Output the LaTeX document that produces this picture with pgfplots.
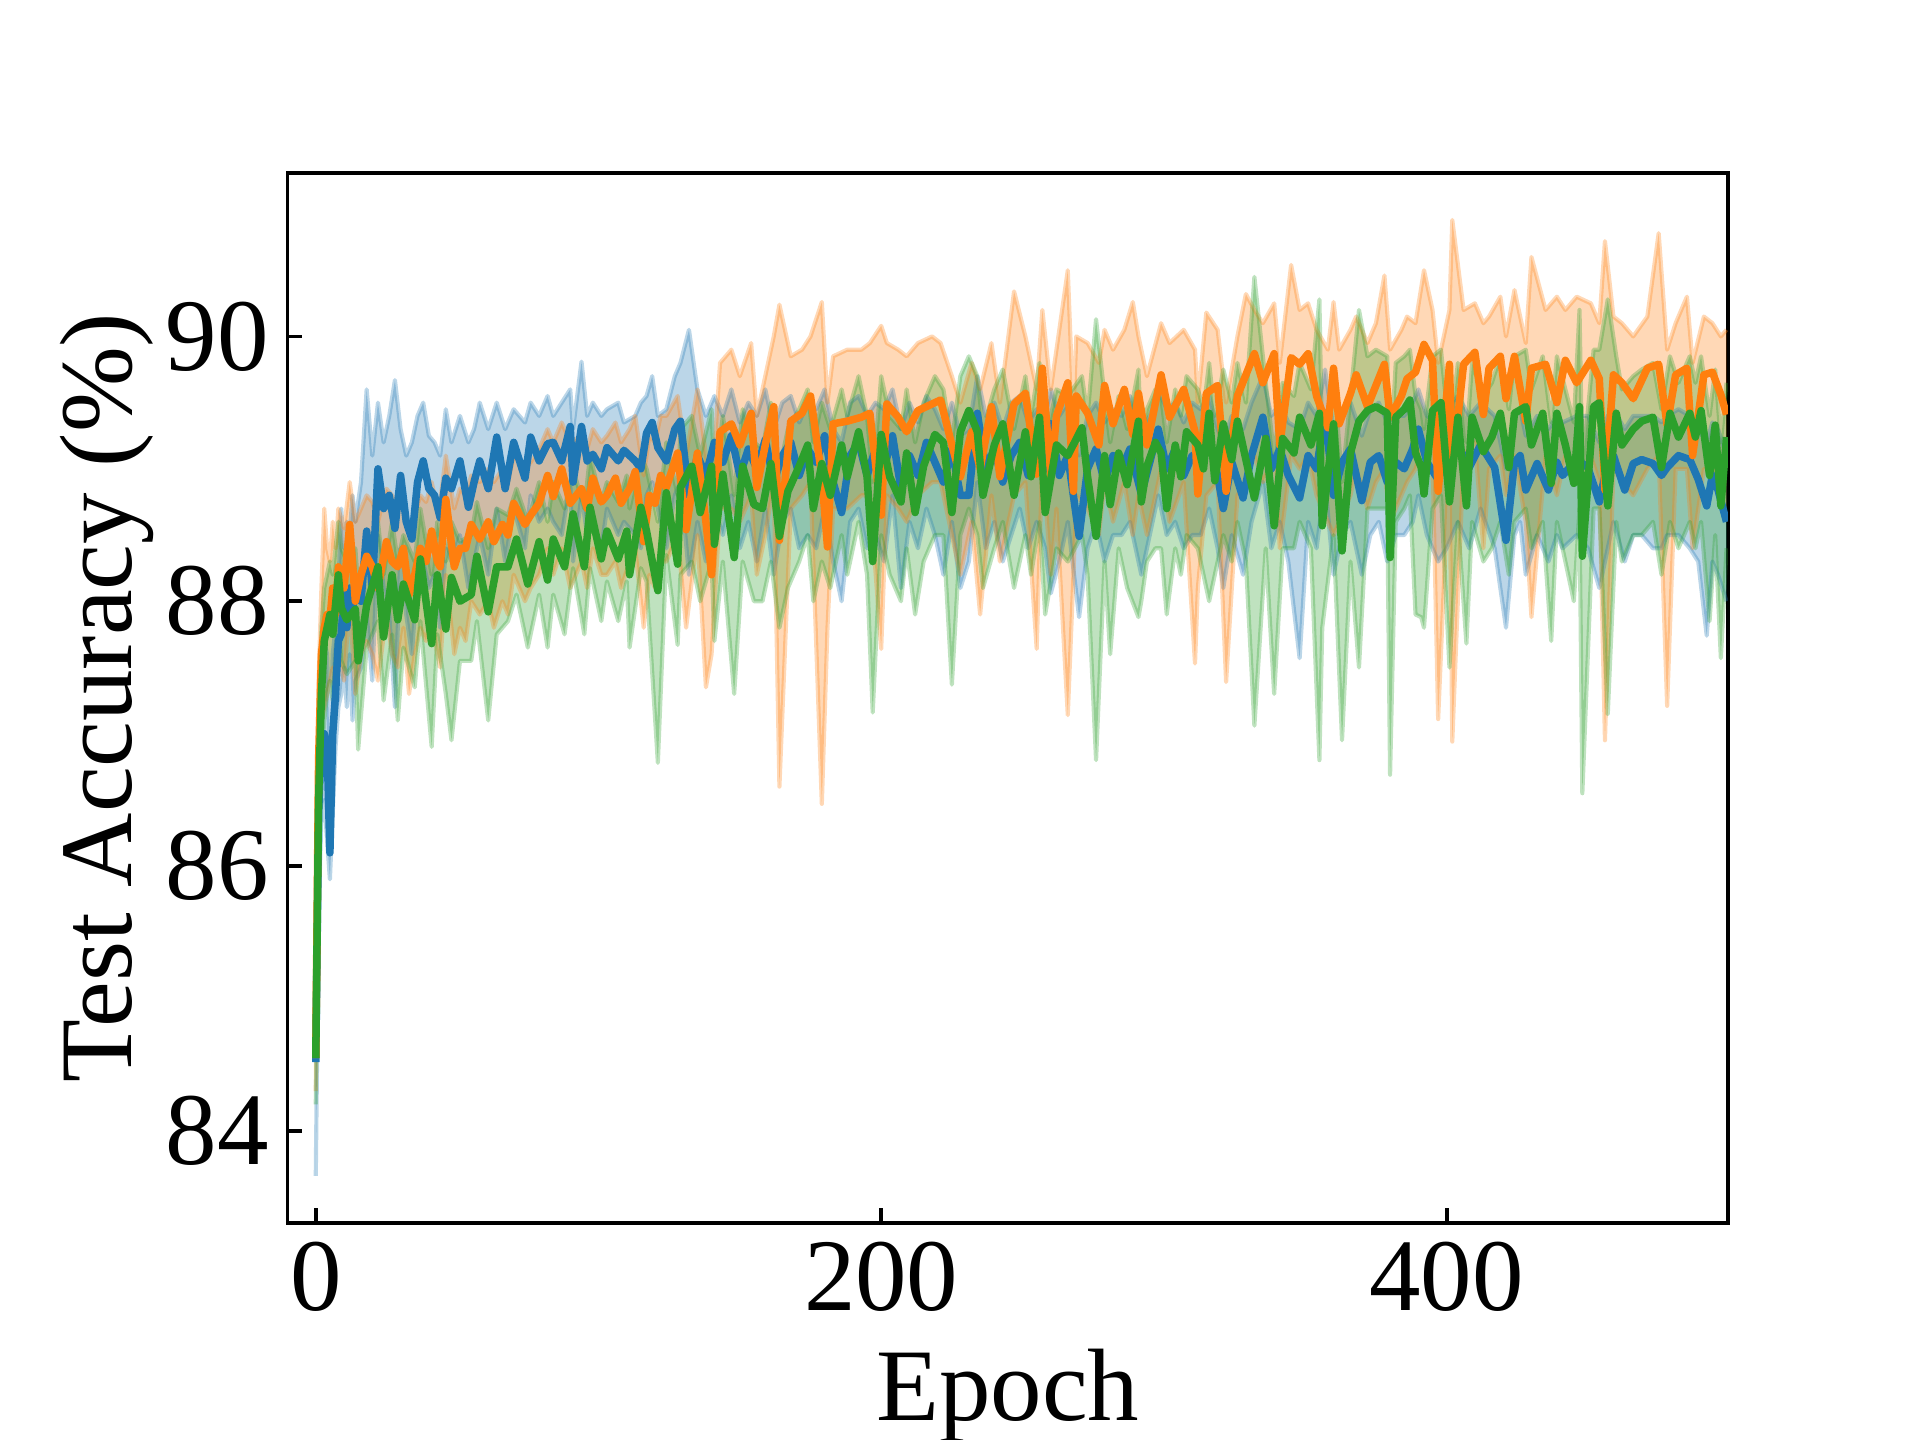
\documentclass[border=0pt]{standalone}
\usepackage{pgfplots}
\pgfplotsset{compat=1.18}
\usepackage{pgfplotstable}
\usepgfplotslibrary{fillbetween}
\usepackage{fontspec}
\setmainfont{Liberation Serif}
\definecolor{c1}{HTML}{1F77B4}
\definecolor{c2}{HTML}{FF7F0E}
\definecolor{c3}{HTML}{2CA02C}

\pgfplotstableread{
x m lo hi
0 84.52 83.66 84.90
1 86.40 85.60 86.90
2 86.95 86.40 87.50
3 87.00 86.50 87.70
4 86.90 86.20 87.60
5 86.10 85.90 86.80
6 87.00 86.40 87.60
7 87.30 86.90 87.80
8 87.70 87.20 88.10
9 87.75 87.30 88.70
10 88.05 87.50 88.40
11 87.80 87.20 88.60
12 88.10 87.60 88.50
13 87.95 87.10 88.80
14 88.05 87.40 88.60
16 88.00 87.50 88.90
18 88.53 87.90 89.60
20 88.10 87.40 89.10
22 89.00 88.50 89.50
24 88.70 88.10 89.20
26 88.80 87.90 89.40
28 88.55 87.20 89.67
30 88.95 88.40 89.30
32 88.60 87.90 89.10
34 88.47 87.60 89.20
36 88.90 88.20 89.40
38 89.06 88.30 89.50
40 88.85 88.10 89.25
42 88.80 88.20 89.20
44 88.63 87.80 89.10
46 88.93 88.40 89.45
48 88.85 88.30 89.20
51 89.06 88.50 89.40
54 88.71 88.10 89.20
56 88.90 88.30 89.30
58 89.06 88.50 89.50
61 88.85 88.20 89.30
64 89.24 88.70 89.50
67 88.85 88.30 89.30
70 89.20 88.70 89.45
74 88.93 88.40 89.35
76 89.24 88.80 89.50
79 89.06 88.60 89.40
82 89.19 88.70 89.55
84 89.20 88.60 89.40
87 89.06 88.50 89.50
90 89.32 88.90 89.60
91 88.90 88.30 89.30
94 89.32 88.80 89.81
96 89.06 88.50 89.40
98 89.11 88.60 89.50
101 89.00 88.40 89.40
103 89.16 88.70 89.45
107 89.06 88.50 89.50
109 89.14 88.60 89.35
113 89.06 88.50 89.40
115 89.00 88.40 89.50
117 89.27 88.80 89.55
119 89.35 88.90 89.70
121 89.16 88.70 89.40
124 89.06 88.40 89.45
127 89.30 88.80 89.70
129 89.36 88.90 89.80
132 88.80 88.20 90.05
135 89.10 88.60 89.60
138 88.95 88.30 89.40
141 89.20 88.70 89.55
144 89.05 88.50 89.40
147 89.25 88.80 89.60
150 88.95 88.40 89.35
153 89.15 88.60 89.50
156 89.00 88.30 89.40
159 89.22 88.70 89.60
162 88.90 88.20 89.30
165 89.10 88.60 89.50
168 89.20 88.70 89.55
171 88.95 88.40 89.35
174 89.15 88.50 89.50
177 89.05 88.40 89.45
180 89.25 88.70 89.60
183 88.90 88.30 89.30
186 88.67 88.00 89.20
189 89.10 88.60 89.50
192 89.20 88.70 89.55
195 88.95 88.40 89.40
198 89.15 88.50 89.50
201 89.00 88.30 89.45
204 89.25 88.80 89.60
207 88.85 88.10 89.30
210 89.10 88.60 89.50
213 88.95 88.40 89.35
216 89.20 88.70 89.55
219 89.05 88.50 89.45
222 88.90 88.20 89.30
225 89.15 88.60 89.50
228 88.80 88.10 89.25
231 88.80 88.30 89.30
234 89.42 88.90 89.70
237 89.00 88.40 89.40
240 89.15 88.60 89.50
243 88.90 88.30 89.30
246 89.10 88.50 89.50
249 89.20 88.70 89.55
252 88.95 88.40 89.35
255 89.10 88.60 89.45
258 89.00 88.40 89.40
260 89.34 88.06 89.60
263 88.95 88.30 89.40
266 89.10 88.60 89.50
270 88.49 87.88 89.10
273 89.00 88.40 89.40
276 89.15 88.60 89.50
279 88.90 88.30 89.35
282 89.10 88.50 89.45
285 89.00 88.50 89.40
288 89.15 88.60 89.55
292 88.81 88.20 89.30
295 89.05 88.50 89.40
298 89.30 88.80 89.60
301 89.00 88.50 89.45
304 89.15 88.60 89.50
307 88.95 88.40 89.35
310 89.10 88.50 89.50
313 89.05 88.50 89.45
316 89.20 88.70 89.55
319 88.95 88.40 89.30
321 88.70 88.10 89.20
324 89.05 88.50 89.40
328 88.78 88.20 89.30
331 89.10 88.60 89.50
335 89.39 88.90 89.70
338 89.00 88.40 89.40
341 89.15 88.60 89.50
344 88.95 88.30 89.35
348 88.78 87.57 89.30
351 89.10 88.60 89.50
354 89.00 88.40 89.40
357 89.42 88.90 89.75
360 88.80 88.20 89.30
363 89.05 88.50 89.45
366 89.15 88.60 89.50
370 88.76 88.20 89.25
373 89.05 88.50 89.45
376 89.10 88.60 89.50
379 88.90 88.30 89.35
382 89.05 88.50 89.40
385 89.00 88.50 89.40
388 89.15 88.60 89.50
390 89.30 88.80 89.60
393 89.05 88.50 89.40
397 88.92 88.30 89.35
400 89.10 88.40 89.45
404 89.18 88.60 89.55
408 89.01 88.40 89.40
412 89.18 88.70 89.50
417 89.01 88.40 89.40
421 88.46 87.80 89.00
424 89.05 88.50 89.40
426 89.10 88.60 89.45
428 88.84 88.20 89.25
432 89.04 88.50 89.40
436 88.84 88.30 89.30
439 89.05 88.50 89.40
441 88.95 88.40 89.35
446 89.07 88.50 89.40
450 89.01 88.40 89.40
454 88.75 88.10 89.20
457 89.05 88.40 89.40
459 89.10 88.60 89.45
463 88.84 88.30 89.30
466 89.04 88.50 89.40
469 89.07 88.50 89.40
473 89.04 88.40 89.40
476 88.95 88.40 89.35
478 89.01 88.50 89.40
482 89.10 88.50 89.45
486 89.07 88.40 89.40
489 88.92 88.30 89.30
492 88.72 87.74 89.20
494 88.95 88.30 89.35
496 88.84 88.20 89.30
499 88.60 88.00 89.10
}\tblblue

\pgfplotstableread{
x m lo hi
0 84.55 84.30 84.80
1 86.80 86.30 87.40
2 87.60 87.10 88.10
3 87.80 87.20 88.70
4 87.90 87.30 88.40
5 87.86 87.40 88.30
6 88.10 87.50 88.60
7 87.90 87.30 88.40
8 88.26 87.60 88.70
10 88.10 87.40 88.55
12 88.58 88.00 88.90
14 88.00 87.30 88.60
16 88.20 87.60 88.70
18 88.34 87.70 88.80
20 88.26 87.60 88.75
22 88.10 87.40 88.60
25 88.45 87.90 88.85
27 88.30 87.60 88.80
29 88.26 87.50 88.70
31 88.40 87.80 88.80
33 88.05 87.30 88.50
35 88.20 87.60 88.65
37 88.40 87.80 88.80
39 88.30 87.70 88.75
41 88.53 87.90 88.90
43 88.30 87.60 88.70
44 88.26 87.50 88.75
46 88.77 88.20 89.10
49 88.26 87.60 88.70
51 88.40 87.80 88.85
53 88.40 87.70 88.80
55 88.58 88.00 88.95
58 88.47 87.90 88.90
61 88.60 88.00 89.00
63 88.45 87.80 88.90
66 88.58 88.00 89.00
68 88.50 87.90 88.90
70 88.74 88.20 89.10
74 88.58 88.00 89.00
76 88.65 88.10 89.05
79 88.74 88.20 89.15
82 88.95 88.40 89.30
84 88.79 88.20 89.20
87 89.00 88.40 89.35
90 88.74 88.10 89.20
94 88.85 88.30 89.25
96 88.70 88.10 89.15
98 88.93 88.40 89.30
101 88.75 88.20 89.20
103 88.80 88.20 89.25
106 88.93 88.30 89.35
108 88.74 88.10 89.20
111 88.85 88.30 89.30
113 88.98 88.40 89.40
116 88.45 87.80 88.95
118 88.80 88.20 89.25
120 88.74 88.10 89.20
122 88.95 88.30 89.40
124 88.86 88.30 89.40
128 89.12 88.50 89.55
131 88.54 87.80 89.10
135 89.12 88.50 89.60
138 88.60 87.35 89.10
140 88.20 87.60 88.80
143 89.28 88.70 89.80
147 89.34 88.70 89.90
150 89.18 88.60 89.70
154 89.42 88.80 89.95
156 88.86 88.20 89.40
159 89.18 88.50 89.70
162 89.47 88.90 90.00
164 88.46 86.60 90.24
168 89.36 88.70 89.85
172 89.42 88.80 89.90
175 89.55 88.90 90.00
179 88.94 86.47 90.26
181 88.41 87.80 89.50
183 89.34 88.70 89.85
188 89.36 88.70 89.90
193 89.39 88.80 89.90
196 89.42 88.80 89.95
200 88.65 87.64 90.08
202 89.49 88.80 89.95
206 89.39 88.70 89.90
209 89.28 88.60 89.85
213 89.44 88.80 89.95
218 89.49 88.90 90.00
221 89.52 88.90 89.95
225 89.18 88.50 89.70
228 88.94 88.20 89.50
232 89.28 88.60 89.80
235 89.00 87.90 89.60
239 89.47 88.80 89.95
242 88.94 88.30 89.50
247 89.49 88.80 90.34
251 89.57 88.90 90.00
255 88.96 87.64 89.60
257 89.76 89.10 90.20
260 88.94 88.20 89.60
262 89.40 88.70 89.90
266 89.65 87.14 90.50
268 88.83 88.20 89.40
269 89.55 88.80 90.00
273 89.42 88.70 89.95
277 89.18 88.50 89.80
279 89.63 88.90 90.05
282 89.34 88.60 89.90
286 89.60 88.90 90.05
289 89.26 88.50 90.26
291 89.57 88.80 90.00
294 89.18 88.50 89.70
299 89.71 89.00 90.10
302 89.39 88.60 89.95
307 89.60 88.90 90.05
311 89.28 87.53 89.90
312 88.81 88.10 89.50
315 89.57 88.80 90.18
319 89.63 88.90 90.05
322 88.83 87.39 89.50
326 89.55 88.80 90.00
329 89.71 88.90 90.32
332 89.87 89.10 90.20
335 89.65 88.90 90.10
339 89.87 89.10 90.25
341 89.18 88.40 89.80
345 89.84 89.10 90.54
348 89.79 89.00 90.20
351 89.87 89.10 90.25
354 89.55 88.80 90.05
358 89.31 88.60 89.90
360 89.76 88.50 90.26
362 89.34 88.60 89.90
366 89.57 88.80 90.05
368 89.71 89.00 90.15
372 89.47 88.70 89.95
375 89.63 88.90 90.10
378 89.79 89.00 90.46
380 89.39 88.60 89.90
384 89.55 88.80 90.05
386 89.68 88.90 90.15
389 89.73 89.00 90.10
392 89.94 89.20 90.50
395 89.82 89.10 90.20
397 88.83 87.11 89.80
401 89.79 89.10 90.20
402 89.01 86.94 90.88
406 89.79 89.10 90.20
410 89.88 89.20 90.25
413 89.41 88.40 90.10
415 89.76 89.00 90.15
419 89.85 89.10 90.30
421 89.53 88.80 90.00
424 89.85 89.10 90.35
428 89.36 88.60 89.95
430 89.76 87.88 90.60
435 89.79 89.10 90.20
439 89.50 88.80 90.30
442 89.82 89.10 90.20
446 89.65 88.90 90.30
451 89.82 89.10 90.25
454 89.68 88.90 90.10
456 88.84 86.95 90.72
459 89.71 89.00 90.15
462 89.65 88.90 90.10
466 89.53 88.80 90.00
471 89.76 89.00 90.15
475 89.79 89.10 90.78
478 89.33 87.21 89.90
481 89.71 89.00 90.10
485 89.76 89.00 90.30
487 89.10 88.40 89.80
491 89.71 89.00 90.15
494 89.73 89.00 90.10
497 89.56 88.80 90.00
499 89.41 88.60 90.05
}\tblorange

\pgfplotstableread{
x m lo hi
0 84.55 84.20 84.85
1 86.50 85.90 87.00
2 87.30 86.80 87.80
3 87.70 87.10 88.10
4 87.80 87.30 88.20
5 87.90 87.40 88.30
6 87.75 87.25 88.20
8 88.20 87.85 88.60
9 87.95 87.55 88.40
11 87.86 87.45 88.30
14 87.94 87.55 88.40
15 87.55 86.88 88.10
18 87.97 87.65 88.40
22 88.26 87.85 88.60
24 87.73 87.25 88.20
27 88.20 87.75 88.60
29 87.86 87.10 88.30
31 88.13 87.65 88.50
35 87.86 87.35 88.30
37 88.32 87.85 88.70
41 87.68 86.90 88.20
43 88.20 87.75 88.60
46 87.79 87.30 88.30
48 88.18 86.95 88.60
51 88.00 87.55 88.45
55 88.05 87.55 88.50
57 88.34 87.85 88.75
61 87.92 87.10 88.40
64 88.26 87.75 88.70
68 88.26 87.85 88.65
71 88.47 88.05 88.85
75 88.13 87.65 88.60
79 88.45 88.05 88.90
82 88.16 87.65 88.60
84 88.47 88.05 88.90
88 88.26 87.75 88.70
91 88.66 88.25 89.00
95 88.26 87.75 88.70
97 88.71 88.25 89.10
101 88.32 87.85 88.75
103 88.53 88.15 88.90
107 88.32 87.85 88.75
110 88.53 88.15 88.95
111 88.20 87.65 88.70
115 88.71 88.25 89.10
117 88.53 88.15 89.00
121 88.08 86.78 88.60
124 88.82 88.35 89.20
128 88.28 87.67 88.80
129 88.86 88.20 89.30
133 89.02 88.30 89.40
136 88.67 88.00 89.10
140 89.02 88.30 89.45
141 88.43 87.70 88.90
144 88.96 88.30 89.40
148 88.33 87.30 88.80
151 89.02 88.30 89.45
155 88.73 88.00 89.20
158 88.70 88.00 89.15
161 89.04 88.30 89.50
164 88.49 87.80 89.00
167 88.83 88.10 89.30
171 89.02 88.30 89.45
174 89.18 88.50 89.60
176 88.70 88.00 89.20
179 89.04 88.30 89.50
182 88.80 88.10 89.30
186 89.18 88.50 89.60
188 88.94 88.20 89.40
192 89.28 88.60 89.70
195 88.94 88.20 89.40
197 88.30 87.16 88.90
200 89.26 88.50 89.70
203 88.94 88.20 89.40
207 88.75 88.00 89.30
209 89.12 88.40 89.60
212 88.67 87.90 89.20
215 89.02 88.30 89.50
219 89.26 88.50 89.70
222 89.20 88.50 89.60
225 88.67 87.37 89.20
228 89.28 88.50 89.70
231 89.44 88.70 89.85
234 89.28 88.50 89.70
236 88.80 88.10 89.30
240 89.18 88.40 89.60
243 89.34 88.60 89.75
247 88.80 88.10 89.30
251 89.28 88.50 89.70
253 88.94 88.20 89.40
256 89.39 88.60 89.80
258 88.67 87.90 89.20
262 89.18 88.40 89.60
266 89.10 88.30 89.55
271 89.31 88.50 89.70
273 88.94 88.20 89.40
276 88.49 86.80 90.13
279 89.10 88.30 89.55
281 88.73 87.60 89.20
284 89.12 88.40 89.55
287 88.88 88.10 89.30
291 89.36 87.88 89.75
292 88.75 88.00 89.20
294 89.02 88.30 89.45
297 89.20 88.40 89.60
299 89.12 88.40 89.55
301 88.70 87.90 89.20
304 89.18 88.40 89.60
306 88.94 88.20 89.40
308 89.28 88.50 89.70
312 89.18 88.40 89.60
314 89.00 88.20 89.45
316 89.42 88.00 89.80
318 88.91 88.20 89.40
321 89.34 88.50 89.75
324 89.07 88.30 89.50
326 89.36 88.60 89.80
329 89.07 88.30 89.50
332 88.78 87.06 90.45
336 89.23 88.40 89.65
339 88.57 87.30 89.10
342 89.23 88.40 89.65
346 89.12 88.40 89.55
348 89.39 88.60 89.80
352 89.18 88.40 89.60
355 89.42 86.80 90.28
356 88.57 87.80 89.10
360 89.34 88.50 89.75
363 88.38 86.95 88.90
366 89.12 88.30 89.55
369 89.36 87.50 90.20
372 89.44 88.70 89.85
375 89.47 88.70 89.90
379 89.42 88.70 89.85
380 88.33 86.69 89.00
382 89.39 88.60 89.80
385 89.45 88.70 89.85
387 89.52 88.80 89.90
389 89.12 87.90 89.55
391 89.01 87.88 89.45
392 88.81 87.80 89.30
395 89.44 88.70 89.85
398 89.50 88.80 89.90
401 88.75 87.50 89.25
404 89.39 88.60 89.80
407 88.72 87.68 89.20
409 89.39 88.60 89.80
413 89.13 88.30 89.55
416 89.24 88.40 89.65
419 89.42 88.60 89.85
422 89.01 88.20 89.45
424 89.42 88.60 89.85
428 89.47 88.70 89.90
430 89.18 88.40 89.60
434 89.42 88.60 89.85
437 88.89 87.70 89.35
439 89.42 88.60 89.85
442 89.18 88.30 89.60
445 88.89 88.00 89.35
447 89.47 88.70 90.20
448 88.34 86.55 89.00
452 89.47 88.70 89.90
454 89.50 88.70 89.90
457 88.72 87.15 90.28
460 89.42 88.60 89.85
462 89.18 88.30 89.60
466 89.30 88.50 89.70
469 89.36 88.50 89.75
473 89.39 88.60 89.80
476 89.01 88.20 89.45
479 89.42 88.60 89.85
482 89.24 88.40 89.65
486 89.42 88.60 89.85
488 89.24 88.40 89.65
490 89.44 88.60 89.85
493 88.95 87.85 89.40
495 89.33 88.50 89.75
497 88.72 87.57 89.20
499 89.24 88.40 89.65
}\tblgreen

\begin{document}
\begin{tikzpicture}
\begin{axis}[
  at={(0,0)}, anchor=south west,
  scale only axis, width=345.7pt, height=252pt,
  xmin=-10, xmax=499.5, ymin=83.305, ymax=91.235,
  xtick={0,200,400}, ytick={84,86,88,90},
  tick align=inside, xtick pos=bottom, ytick pos=left,
  major tick length=3.5pt,
  every tick/.style={black, line width=0.9pt},
  axis line style={line width=0.9pt},
  /pgf/number format/assume math mode=true,
  tick label style={font=\fontsize{24.7}{29}\selectfont},
  xticklabel style={inner sep=0pt, yshift=-4.5pt, anchor=north},
  yticklabel style={inner sep=0pt, xshift=-4.3pt, anchor=east},
  xlabel={Epoch}, ylabel={Test Accuracy (\%)},
  every axis x label/.style={at={(axis description cs:0.5,-0.1877)}, anchor=base, inner sep=0pt, font=\fontsize{24.7}{29}\selectfont},
  every axis y label/.style={at={(axis description cs:-0.108,0.5)}, rotate=90, anchor=base, inner sep=0pt, font=\fontsize{24.7}{29}\selectfont},
  every axis plot/.append style={line join=round},
]
% bands
\addplot[c1, draw opacity=0.3, line width=1pt, name path=bl] table[x=x,y=lo]{\tblblue};
\addplot[c1, draw opacity=0.3, line width=1pt, name path=bh] table[x=x,y=hi]{\tblblue};
\addplot[c1, fill opacity=0.3, draw=none] fill between[of=bh and bl];
\addplot[c2, draw opacity=0.3, line width=1pt, name path=ol] table[x=x,y=lo]{\tblorange};
\addplot[c2, draw opacity=0.3, line width=1pt, name path=oh] table[x=x,y=hi]{\tblorange};
\addplot[c2, fill opacity=0.3, draw=none] fill between[of=oh and ol];
\addplot[c3, draw opacity=0.3, line width=1pt, name path=gl] table[x=x,y=lo]{\tblgreen};
\addplot[c3, draw opacity=0.3, line width=1pt, name path=gh] table[x=x,y=hi]{\tblgreen};
\addplot[c3, fill opacity=0.3, draw=none] fill between[of=gh and gl];
% means
\addplot[c1, line width=1.8pt] table[x=x,y=m]{\tblblue};
\addplot[c2, line width=1.8pt] table[x=x,y=m]{\tblorange};
\addplot[c3, line width=1.8pt] table[x=x,y=m]{\tblgreen};
\end{axis}
\pgfresetboundingbox
\useasboundingbox (-69pt,-52.1pt) rectangle (391.8pt,293.5pt);
\end{tikzpicture}
\end{document}
